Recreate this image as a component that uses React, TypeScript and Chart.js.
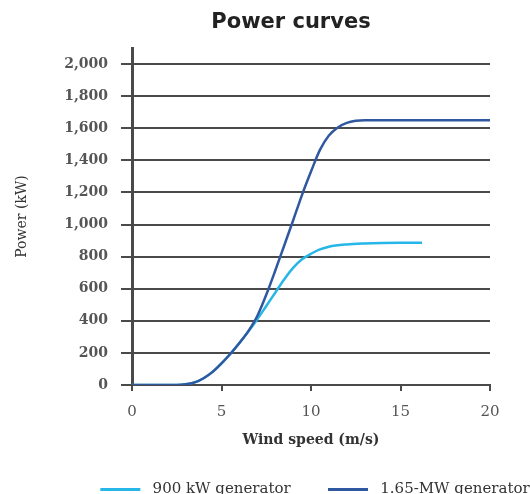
import React, { useEffect, useRef } from "react";
import { Chart, registerables } from "chart.js";

Chart.register(...registerables);

const speed900kW = [0, 1, 2, 2.5, 3, 3.5, 4, 4.5, 5, 5.5, 6, 6.5, 7, 7.5, 8, 8.5, 9, 9.5, 10, 10.5, 11, 12, 13, 14, 15, 16.2];
const power900kW = [0, 0, 0, 0, 4, 16, 42, 82, 135, 195, 262, 333, 410, 492, 575, 658, 730, 783, 818, 845, 862, 876, 882, 885, 886, 886];
const speed165MW = [0, 1, 2, 2.5, 3, 3.5, 4, 4.5, 5, 5.5, 6, 6.5, 7, 7.5, 8, 8.5, 9, 9.5, 10, 10.5, 11, 11.5, 12, 12.5, 13, 14, 15, 16, 17, 18, 19, 20];
const power165MW = [0, 0, 0, 0, 4, 16, 42, 82, 135, 195, 262, 336, 430, 562, 712, 868, 1025, 1185, 1330, 1465, 1555, 1605, 1633, 1646, 1650, 1650, 1650, 1650, 1650, 1650, 1650, 1650];
const yTicks = [0, 200, 400, 600, 800, 1000, 1200, 1400, 1600, 1800, 2000];
const xTicks = [0, 5, 10, 15, 20];
const seriesNames = ["900 kW generator", "1.65-MW generator"];
const chartTitle = "Power curves";

const LIGHT = "rgb(38,182,232)";
const DARK = "rgb(48,88,160)";
const GRID = "#4a4a4a";

export default function App() {
  const ref = useRef<HTMLCanvasElement | null>(null);
  useEffect(() => {
    if (!ref.current) return;
    const titlePlugin = {
      id: "customTitle",
      afterLayout(chart: any) {
        const lg = chart.legend;
        if (lg) {
          lg.left += 63;
          lg.right += 63;
        }
      },
      afterDraw(chart: any) {
        const ctx = chart.ctx;
        ctx.save();
        ctx.font = "bold 21px 'DejaVu Sans'";
        ctx.fillStyle = "#222";
        ctx.textAlign = "center";
        ctx.textBaseline = "middle";
        ctx.fillText(chartTitle, 291, 23);
        ctx.restore();
      },
    };
    const defaultLabels = Chart.defaults.plugins.legend.labels.generateLabels;
    const chart = new Chart(ref.current, {
      type: "line",
      data: {
        datasets: [
          {
            label: seriesNames[0],
            data: power900kW.map((v, i) => ({ x: speed900kW[i], y: v })),
            borderColor: LIGHT,
            backgroundColor: LIGHT,
            borderWidth: 2.5,
            pointRadius: 0,
            cubicInterpolationMode: "monotone",
            order: 1,
          },
          {
            label: seriesNames[1],
            data: power165MW.map((v, i) => ({ x: speed165MW[i], y: v })),
            borderColor: DARK,
            backgroundColor: DARK,
            borderWidth: 2.5,
            pointRadius: 0,
            cubicInterpolationMode: "monotone",
            order: 0,
          },
        ],
      },
      options: {
        animation: false,
        responsive: false,
        maintainAspectRatio: false,
        layout: { padding: { top: 48, right: 40, left: 14, bottom: 0 } },
        plugins: {
          title: { display: false },
          tooltip: { enabled: false },
          legend: {
            position: "bottom",
            labels: {
              boxWidth: 40,
              boxHeight: 3,
              padding: 4,
              color: "#333",
              font: { family: "'DejaVu Serif'", size: 15 },
              sort: (a: any, b: any) => a.datasetIndex - b.datasetIndex,
              generateLabels: (chart: any) =>
                defaultLabels(chart).map((item: any) => ({
                  ...item,
                  lineWidth: 0,
                  text: " " + item.text + (item.datasetIndex === 0 ? "       " : ""),
                })),
            },
          },
        },
        scales: {
          x: {
            type: "linear",
            min: 0,
            max: 20,
            afterBuildTicks: (axis: any) => {
              axis.ticks = xTicks.map((v) => ({ value: v }));
            },
            afterFit: (scale: any) => {
              scale.height = 93;
            },
            grid: {
              drawOnChartArea: false,
              drawTicks: true,
              tickLength: 6,
              color: GRID,
              lineWidth: 2,
            },
            border: { display: true, color: GRID, width: 2 },
            ticks: {
              color: "#555",
              padding: 12,
              font: { family: "'DejaVu Serif'", size: 15 },
            },
            title: {
              display: true,
              text: "Wind speed (m/s)",
              color: "#333",
              padding: { top: 4, bottom: 29 },
              font: { family: "'DejaVu Serif'", size: 14, weight: "bold" },
            },
          },
          y: {
            type: "linear",
            min: 0,
            max: 2100,
            afterBuildTicks: (axis: any) => {
              axis.ticks = yTicks.map((v) => ({ value: v }));
            },
            afterFit: (scale: any) => {
              scale.width = 118;
            },
            grid: {
              drawOnChartArea: true,
              drawTicks: true,
              tickLength: 11,
              color: GRID,
              lineWidth: 2,
            },
            border: { display: true, color: GRID, width: 3 },
            ticks: {
              color: "#555",
              padding: 13,
              font: { family: "'DejaVu Serif'", size: 14, weight: "bold" },
              callback: (v: any) => Number(v).toLocaleString("en-US"),
            },
            title: {
              display: true,
              text: "Power (kW)",
              color: "#333",
              padding: { top: 0, bottom: 10 },
              font: { family: "'DejaVu Serif'", size: 14 },
            },
          },
        },
      },
      plugins: [titlePlugin],
    } as any);
    return () => chart.destroy();
  }, []);
  return (
    <div style={{ position: "absolute", left: 0, top: 0, width: 530, height: 494, overflow: "hidden", background: "#fff" }}>
      <canvas ref={ref} width={530} height={507} style={{ width: 530, height: 507, display: "block" }} />
    </div>
  );
}
